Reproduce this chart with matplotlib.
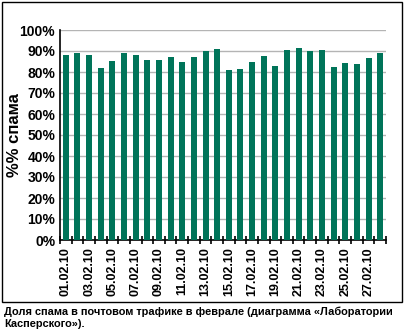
import matplotlib.pyplot as plt
import numpy as np
from matplotlib.patches import Rectangle

plt.rcParams['font.family'] = ['Liberation Sans', 'DejaVu Sans']

days = [f"{d:02d}.02.10" for d in range(1, 29)]
spam_share = [87.9, 89.2, 87.9, 81.7, 85.2, 89.2, 87.9, 85.7, 85.5, 87.1,
              84.9, 87.3, 90.0, 90.8, 81.1, 81.2, 84.7, 87.6, 82.8, 90.3,
              91.2, 90.1, 90.6, 82.3, 84.4, 83.8, 86.5, 89.2]
y_ticks = list(range(0, 101, 10))
caption = ("Доля спама в почтовом трафике в феврале (диаграмма «Лаборатории\n"
           "Касперского»).")

fig = plt.figure(figsize=(4.06, 3.34), dpi=100)

# outer frame around the chart
fig.patches.append(Rectangle((2 / 406, 1 - 302 / 334), 400 / 406, 300 / 334,
                             transform=fig.transFigure, fill=False,
                             edgecolor='black', linewidth=1))

ax = fig.add_axes([60 / 406, (334 - 240) / 334, 326 / 406, 210 / 334])
x = np.arange(len(days))
ax.bar(x, spam_share, width=0.52, color='#007459', zorder=3)

ax.set_xlim(-0.5, len(days) - 0.5)
ax.set_ylim(0, 100)
ax.set_yticks(y_ticks)
ax.set_yticklabels([f"{v}%" for v in y_ticks], fontsize=10, fontweight='bold')
ax.yaxis.grid(True, color='#b4b4b4', linewidth=1, zorder=0)
ax.tick_params(axis='y', length=0, pad=3.5)

# minor ticks at category boundaries, labels every second day
ax.set_xticks(np.arange(-0.5, len(days), 1), minor=True)
ax.set_xticks(x[::2])
ax.set_xticklabels(days[::2], rotation=90, fontsize=9, fontweight='bold')
ax.tick_params(axis='x', which='major', length=0, pad=5)
ax.tick_params(axis='x', which='minor', direction='inout', length=6, width=1.2)

for side in ['top', 'right']:
    ax.spines[side].set_visible(False)
ax.spines['left'].set_linewidth(1.2)
ax.spines['bottom'].set_linewidth(1.2)

ax.set_ylabel("%% спама", fontsize=12, fontweight='bold')
ax.yaxis.set_label_coords(-38 / 326, 0.5)

fig.text(4 / 406, 1 - 318 / 334, caption, fontsize=7.9, fontweight='bold',
         va='center', ha='left', linespacing=1.3)

fig.savefig('out.png', dpi=100)
